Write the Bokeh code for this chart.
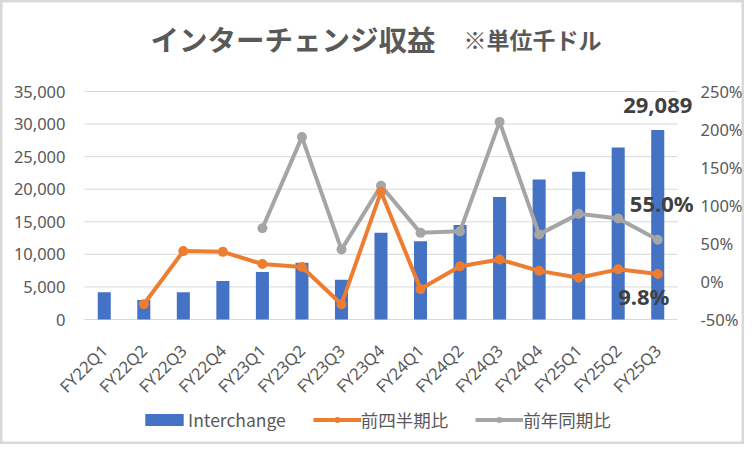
import math
from bokeh.plotting import figure
from bokeh.models import (ColumnDataSource, Range1d, LinearAxis, FixedTicker,
                          NumeralTickFormatter, PrintfTickFormatter, Legend, LegendItem,
                          Label)
from bokeh.embed import file_html
from bokeh.resources import INLINE

NaN = float("nan")

# ---- data ----
quarters = ["FY22Q1", "FY22Q2", "FY22Q3", "FY22Q4", "FY23Q1", "FY23Q2", "FY23Q3", "FY23Q4",
            "FY24Q1", "FY24Q2", "FY24Q3", "FY24Q4", "FY25Q1", "FY25Q2", "FY25Q3"]
interchange = [4200, 3000, 4200, 5900, 7300, 8700, 6100, 13300,
               12000, 14500, 18800, 21500, 22700, 26400, 29089]
qoq_pct = [NaN, -30, 40, 39, 23, 19, -30, 118, -10, 20, 29, 14, 5, 16, 9.8]
yoy_pct = [NaN, NaN, NaN, NaN, 70, 190, 42, 126, 64, 66, 210, 62, 89, 83, 55.0]
left_ticks = [0, 5000, 10000, 15000, 20000, 25000, 30000, 35000]
right_ticks = [-50, 0, 50, 100, 150, 200, 250]

title_main = "インターチェンジ収益"
title_unit = "※単位千ドル"
series_names = ["Interchange", "前四半期比", "前年同期比"]

BLUE = "#4472C4"
ORANGE = "#ED7D31"
GRAY = "#A5A5A5"
TXT = "#595959"
DARK = "#404040"
GRID = "#D9D9D9"

# ---- layout (pixels) ----
# The frame covers the whole canvas (so nothing is clipped); axes sit at fixed
# locations on the edges of the plot area.
W, H = 744, 444
PLOT_LEFT, PLOT_RIGHT, PLOT_TOP, PLOT_BOTTOM = 84, 677, 91, 319

n = len(quarters)
xs = [i + 0.5 for i in range(n)]
px_per_cat = (PLOT_RIGHT - PLOT_LEFT) / n
x0 = -PLOT_LEFT / px_per_cat
x1 = n + (W - PLOT_RIGHT) / px_per_cat

plot_h = PLOT_BOTTOM - PLOT_TOP
def extend(ticks):
    span = ticks[-1] - ticks[0]
    return (ticks[0] - (H - PLOT_BOTTOM) * span / plot_h,
            ticks[-1] + PLOT_TOP * span / plot_h)

y0, y1 = extend(left_ticks)
p0, p1 = extend(right_ticks)

src = ColumnDataSource(dict(x=xs, q=quarters, v=interchange, qoq=qoq_pct, yoy=yoy_pct))

p = figure(x_range=Range1d(x0, x1), y_range=Range1d(y0, y1),
           width=W, height=H, output_backend="svg", toolbar_location=None,
           min_border=0)
p.extra_y_ranges = {"pct": Range1d(p0, p1)}
p.outline_line_color = GRID
p.outline_line_width = 4
p.background_fill_color = "white"
p.border_fill_color = "white"
p.xgrid.grid_line_color = None
p.ygrid.grid_line_color = None

# gridlines across the plot area only
p.segment(x0=[0] * len(left_ticks), x1=[n] * len(left_ticks), y0=left_ticks, y1=left_ticks,
          line_color=GRID, line_width=1)

bars = p.vbar(x="x", top="v", width=0.33, source=src, fill_color=BLUE, line_color=None)
gl = p.line(x="x", y="yoy", source=src, y_range_name="pct", line_color=GRAY, line_width=4)
gs = p.scatter(x="x", y="yoy", source=src, y_range_name="pct", size=10,
               fill_color=GRAY, line_color=None)
ol = p.line(x="x", y="qoq", source=src, y_range_name="pct", line_color=ORANGE, line_width=4)
os_ = p.scatter(x="x", y="qoq", source=src, y_range_name="pct", size=10,
                fill_color=ORANGE, line_color=None)

# axes
ya = p.yaxis[0]
ya.fixed_location = 0
ya.ticker = FixedTicker(ticks=left_ticks)
ya.formatter = NumeralTickFormatter(format="0,0")
ya.major_label_standoff = 13
ra = LinearAxis(y_range_name="pct", ticker=FixedTicker(ticks=right_ticks),
                formatter=PrintfTickFormatter(format="%d%%"))
ra.fixed_location = n
ra.major_label_standoff = 17
p.add_layout(ra, "right")
for ax in (ya, ra):
    ax.axis_line_color = None
    ax.major_tick_line_color = None
    ax.minor_tick_line_color = None
    ax.major_label_text_font = "Noto Sans"
    ax.major_label_text_font_size = "16.5px"
    ax.major_label_text_color = TXT

xa = p.xaxis[0]
xa.fixed_location = left_ticks[0]
xa.ticker = FixedTicker(ticks=xs)
xa.major_label_overrides = {x: q for x, q in zip(xs, quarters)}
xa.axis_line_color = None
xa.major_tick_line_color = None
xa.minor_tick_line_color = None
xa.major_label_orientation = math.pi / 4
xa.major_label_text_font = "Noto Sans"
xa.major_label_text_font_size = "16.5px"
xa.major_label_text_color = TXT
xa.major_label_standoff = 22

# data labels
p.add_layout(Label(x=xs[-1], y=interchange[-1], text=f"{interchange[-1]:,}", text_align="center",
                   text_baseline="bottom", y_offset=17, text_font="Noto Sans",
                   text_font_style="bold", text_font_size="22px", text_color=DARK))
p.add_layout(Label(x=xs[-1], y=yoy_pct[-1], y_range_name="pct", text=f"{yoy_pct[-1]:.1f}%",
                   text_align="center", text_baseline="middle", x_offset=4, y_offset=37,
                   text_font="Noto Sans", text_font_style="bold", text_font_size="22px",
                   text_color=DARK))
p.add_layout(Label(x=xs[-1], y=qoq_pct[-1], y_range_name="pct", text=f"{qoq_pct[-1]:.1f}%",
                   text_align="center", text_baseline="middle", x_offset=-14, y_offset=-22,
                   text_font="Noto Sans", text_font_style="bold", text_font_size="22px",
                   text_color=DARK))

# title (screen units from the frame's bottom-left)
p.add_layout(Label(x=150, y=H - 38, x_units="screen", y_units="screen", text=title_main,
                   text_baseline="middle", text_font="Noto Sans CJK JP",
                   text_font_style="bold", text_font_size="28.5px", text_color=TXT))
p.add_layout(Label(x=463, y=H - 38, x_units="screen", y_units="screen", text=title_unit,
                   text_baseline="middle", text_font="Noto Sans CJK JP",
                   text_font_style="bold", text_font_size="23px", text_color=TXT))

legend = Legend(items=[LegendItem(label=series_names[0], renderers=[bars]),
                       LegendItem(label=series_names[1], renderers=[ol, os_]),
                       LegendItem(label=series_names[2], renderers=[gl, gs])],
                location=(140, H - 432), orientation="horizontal",
                border_line_color=None, background_fill_alpha=0, padding=0, margin=0,
                spacing=27, glyph_width=48, glyph_height=15, label_standoff=0,
                label_text_font="Noto Sans CJK JP", label_text_font_size="17.5px",
                label_text_color=TXT)
p.add_layout(legend)

open("out.html", "w").write(file_html(p, INLINE))
